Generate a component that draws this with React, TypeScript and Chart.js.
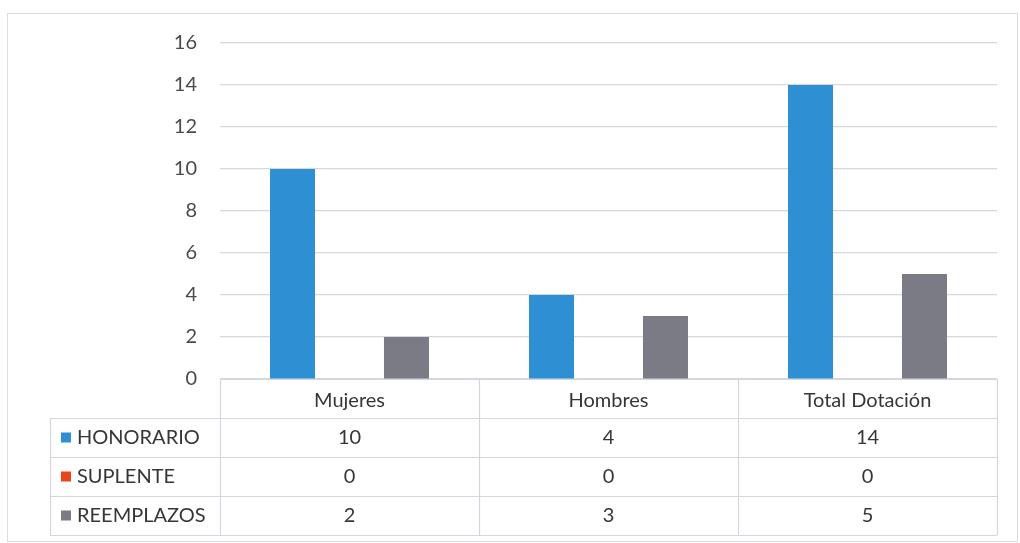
import { useEffect, useRef } from "react";
import { Chart, registerables } from "chart.js";

Chart.register(...registerables);

// Chart data
const categories = ["Mujeres", "Hombres", "Total Dotación"];
const seriesNames = ["HONORARIO", "SUPLENTE", "REEMPLAZOS"];
const honorario = [10, 4, 14];
const suplente = [0, 0, 0];
const reemplazos = [2, 3, 5];
const yMax = 16;
const yStep = 2;

const seriesColors = ["#2f8fd3", "#e9461f", "#7b7b85"];
const FONT = "Lato, 'Open Sans', sans-serif";
const TEXT_COLOR = "#363636";
const LINE_COLOR = "#d6d6e0";

// Data table drawn under the plot: header row with categories, then one row per series
const dataTablePlugin = {
  id: "dataTable",
  afterDraw(chart: any) {
    const { ctx, chartArea } = chart;
    const xs = chart.scales.x;
    const n = chart.data.labels.length;
    const tableLeft = 50;
    const headerH = 39;
    const rowH = 39;
    const top = chartArea.bottom;
    const datasets = chart.data.datasets;
    const bottom = top + headerH + rowH * datasets.length;

    const bounds: number[] = [chartArea.left];
    for (let i = 0; i < n - 1; i++) {
      bounds.push((xs.getPixelForValue(i) + xs.getPixelForValue(i + 1)) / 2);
    }
    bounds.push(chartArea.right);

    ctx.save();
    ctx.strokeStyle = LINE_COLOR;
    ctx.lineWidth = 1.2;
    const hline = (x1: number, x2: number, y: number) => {
      ctx.beginPath();
      ctx.moveTo(x1, Math.round(y) + 0.5);
      ctx.lineTo(x2, Math.round(y) + 0.5);
      ctx.stroke();
    };
    const vline = (x: number, y1: number, y2: number) => {
      ctx.beginPath();
      ctx.moveTo(Math.round(x) + 0.5, y1);
      ctx.lineTo(Math.round(x) + 0.5, y2);
      ctx.stroke();
    };

    hline(chartArea.left, chartArea.right, top);
    for (let r = 0; r <= datasets.length; r++) {
      hline(tableLeft, chartArea.right, top + headerH + r * rowH);
    }
    vline(tableLeft, top + headerH, bottom);
    bounds.forEach((b) => vline(b, top, bottom));

    ctx.fillStyle = TEXT_COLOR;
    ctx.font = `20px ${FONT}`;
    ctx.textBaseline = "middle";
    ctx.textAlign = "center";
    chart.data.labels.forEach((label: string, i: number) => {
      ctx.fillText(label, xs.getPixelForValue(i), top + headerH / 2 + 2);
    });

    datasets.forEach((ds: any, r: number) => {
      const cy = top + headerH + r * rowH + rowH / 2;
      ctx.fillStyle = ds.backgroundColor;
      ctx.fillRect(tableLeft + 11, cy - 5, 10, 10);
      ctx.fillStyle = TEXT_COLOR;
      ctx.textAlign = "left";
      ctx.fillText(ds.label, tableLeft + 27, cy);
      ctx.textAlign = "center";
      ds.data.forEach((v: number, i: number) => {
        ctx.fillText(String(v), xs.getPixelForValue(i), cy);
      });
    });
    ctx.restore();
  },
};

export default function App() {
  const canvasRef = useRef<HTMLCanvasElement | null>(null);

  useEffect(() => {
    if (!canvasRef.current) return;
    const values = [honorario, suplente, reemplazos];
    const chart = new Chart(canvasRef.current, {
      type: "bar",
      data: {
        labels: categories,
        datasets: seriesNames.map((name, i) => ({
          label: name,
          data: values[i],
          backgroundColor: seriesColors[i],
          categoryPercentage: 0.66,
          barPercentage: 0.79,
        })),
      },
      options: {
        animation: false,
        responsive: false,
        layout: { padding: { top: 43, right: 23, bottom: 164, left: 0 } },
        plugins: {
          legend: { display: false },
          tooltip: { enabled: false },
        },
        scales: {
          x: {
            display: false,
            grid: { display: false },
          },
          y: {
            min: 0,
            max: yMax,
            ticks: {
              stepSize: yStep,
              padding: 23,
              color: "#4a4a4a",
              font: { family: FONT, size: 20 },
            },
            grid: { color: LINE_COLOR, lineWidth: 1.2, drawTicks: false },
            border: { display: false },
            afterFit(scale: any) {
              scale.width = 220;
            },
          },
        },
      },
      plugins: [dataTablePlugin],
    });
    return () => chart.destroy();
  }, []);

  return (
    <div
      style={{
        position: "fixed",
        left: 0,
        top: 0,
        width: 1020,
        height: 543,
        background: "#ffffff",
        overflow: "hidden",
      }}
    >
      <div
        style={{
          position: "absolute",
          left: 7,
          top: 13,
          width: 1011,
          height: 529,
          border: "1px solid #dcdce2",
          boxSizing: "border-box",
        }}
      />
      <canvas
        ref={canvasRef}
        width={1020}
        height={543}
        style={{ position: "absolute", left: 0, top: 0, width: 1020, height: 543 }}
      />
    </div>
  );
}
